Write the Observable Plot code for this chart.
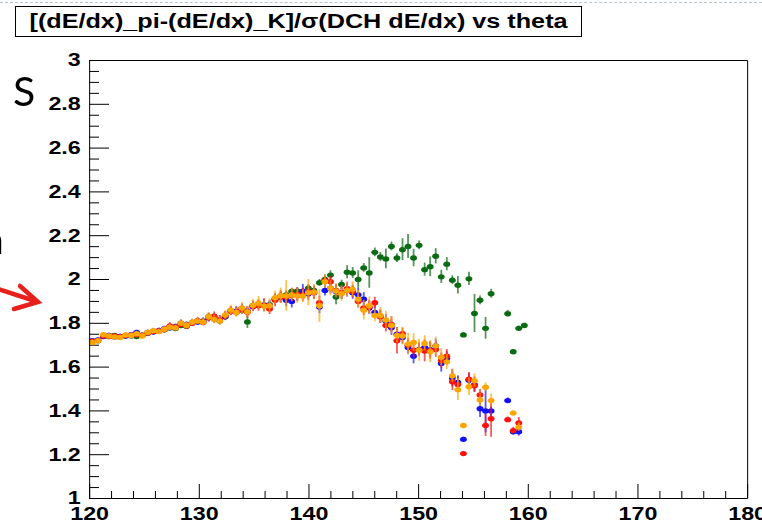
<!DOCTYPE html>
<html><head><meta charset="utf-8">
<script src="https://cdn.jsdelivr.net/npm/d3@7"></script>
<script src="https://cdn.jsdelivr.net/npm/@observablehq/plot@0.6"></script>
<style>
body{margin:0;background:#fff;}
#wrap{position:relative;width:762px;height:524px;overflow:hidden;background:#fff;font-family:"Liberation Sans",Arial,sans-serif;}
#dash{position:absolute;left:0;top:2px;width:762px;height:0;border-top:1px dashed #b8c4d0;}
#title{position:absolute;left:15px;top:6px;width:567px;height:31px;box-sizing:border-box;border:1px solid #000;display:flex;align-items:center;justify-content:center;background:#fff;z-index:2;}
#title span{display:inline-block;font-weight:bold;font-size:20px;white-space:nowrap;transform:scaleX(1.26);transform-origin:center;color:#000;}
.slide{position:absolute;font-family:Lato,"Open Sans",sans-serif;font-size:41px;color:#000;z-index:2;line-height:1;will-change:transform;}
#arrow{position:absolute;left:0;top:270px;z-index:2;}
#chart{position:absolute;left:0;top:0;}
#chart svg line, #chart svg rect, #chart svg path{vector-effect:non-scaling-stroke;}
</style></head>
<body>
<div id="wrap">
  <div id="chart"></div>
  <div id="dash"></div>
  <div id="title"><span>[(dE/dx)_pi-(dE/dx)_K]/σ(DCH dE/dx) vs theta</span></div>
  <div class="slide" style="left:13px;top:70px;">S</div>
  <div class="slide" style="left:-19px;top:218px;">n</div>
  <svg id="arrow" width="50" height="50" viewBox="0 270 50 50">
    <path d="M-2,289 L35,301" stroke="#e8201c" stroke-width="4.5" fill="none" stroke-linecap="round"/>
    <path d="M20,286 L38,302 L14,309" stroke="#e8201c" stroke-width="4.5" fill="none" stroke-linejoin="miter" stroke-linecap="round"/>
  </svg>
</div>
<script>
// theta binning: first bin centre at 120.25, spacing ~0.505 degree
const binFirstCentre = 120.25, binSpacing = 0.505, halfWidth = 0.25, nBins = 80;
const seriesNames = ["green", "blue", "red", "orange"];
const seriesColors = ["#0b6b12", "#1010ff", "#ff1010", "#ffa500"];

const greenY = [1.716,1.72,1.742,1.74,1.745,1.738,1.743,1.742,1.74,1.746,1.755,1.762,1.764,1.77,1.78,1.776,1.79,1.786,1.8,1.808,1.81,1.83,1.825,1.81,1.83,1.858,1.85,1.86,1.806,1.882,1.885,1.88,1.885,1.912,1.925,1.93,1.945,1.947,1.94,1.96,1.95,
1.985,2.0,2.02,1.92,1.977,2.033,2.03,2.0,2.053,2.03,2.124,2.103,2.094,2.151,2.098,2.136,2.151,2.098,2.156,2.045,2.058,2.106,2.012,2.07,1.997,1.974,1.747,2.003,1.845,1.905,1.777,1.935,null,null,1.844,1.67,1.777,1.79,null];
const greenErr = [0.008,0.008,0.008,0.008,0.008,0.008,0.008,0.008,0.008,0.008,0.01,0.01,0.01,0.01,0.01,0.01,0.01,0.01,0.01,0.01,0.01,0.015,0.015,0.015,0.015,0.015,0.015,0.015,0.03,0.015,0.015,0.015,0.015,0.015,0.015,0.015,0.015,0.015,0.015,0.015,0.015,
0.015,0.02,0.02,0.035,0.02,0.03,0.025,0.04,0.02,0.07,0.02,0.02,0.045,0.02,0.02,0.05,0.055,0.04,0.02,0.03,0.045,0.035,0.03,0.03,0.02,0.04,0.01,0.03,0.087,0.02,0.05,0.02,null,null,0.015,0.01,0.01,0.01,null];

const blueY = [1.72,1.724,1.74,1.745,1.738,1.74,1.742,1.748,1.758,1.745,1.757,1.76,1.766,1.775,1.78,1.784,1.8,1.792,1.802,1.806,1.81,1.826,1.82,1.815,1.832,1.856,1.855,1.868,1.856,1.876,1.886,1.884,1.88,1.91,1.92,1.905,1.9,1.93,1.947,1.935,1.94,
1.874,1.95,1.96,1.945,1.94,1.95,1.94,1.93,1.91,1.87,1.85,1.83,1.81,1.78,1.75,1.735,1.69,1.65,1.68,1.69,1.68,1.697,1.617,1.64,1.55,1.53,1.27,1.54,1.52,1.41,1.40,1.40,null,null,1.447,1.305,1.305,null,null];
const blueErr = [0.01,0.01,0.01,0.01,0.01,0.01,0.01,0.01,0.01,0.01,0.012,0.012,0.012,0.012,0.012,0.012,0.015,0.015,0.015,0.015,0.015,0.02,0.02,0.02,0.02,0.02,0.02,0.02,0.02,0.02,0.02,0.025,0.025,0.025,0.025,0.03,0.03,0.03,0.03,0.03,0.03,
0.03,0.025,0.025,0.03,0.03,0.03,0.03,0.03,0.03,0.03,0.03,0.03,0.03,0.035,0.03,0.03,0.03,0.035,0.03,0.03,0.035,0.03,0.04,0.03,0.04,0.03,0.01,0.03,0.035,0.04,0.1,0.03,null,null,0.012,0.015,0.02,null,null];

const redY = [1.718,1.722,1.742,1.74,1.742,1.738,1.744,1.746,1.748,1.744,1.756,1.762,1.765,1.77,1.788,1.782,1.795,1.788,1.8,1.812,1.804,1.825,1.832,1.815,1.834,1.855,1.852,1.862,1.85,1.878,1.88,1.882,1.865,1.905,1.92,1.92,1.928,1.932,1.93,1.945,1.94,
1.894,1.995,1.99,1.95,1.94,1.958,1.945,1.9,1.87,1.875,1.894,1.83,1.79,1.795,1.72,1.753,1.7,1.677,1.68,1.674,1.675,1.68,1.63,1.65,1.533,1.52,1.205,1.545,1.515,1.473,1.333,1.364,null,null,1.36,1.31,1.345,null,null];
const redErr = [0.01,0.01,0.01,0.01,0.01,0.01,0.01,0.01,0.012,0.01,0.012,0.012,0.012,0.012,0.014,0.014,0.015,0.015,0.015,0.015,0.016,0.018,0.02,0.02,0.02,0.02,0.022,0.022,0.025,0.025,0.025,0.03,0.025,0.03,0.03,0.03,0.03,0.03,0.03,0.03,0.03,
0.03,0.02,0.025,0.03,0.03,0.03,0.03,0.03,0.035,0.03,0.025,0.03,0.03,0.035,0.06,0.025,0.03,0.035,0.03,0.05,0.04,0.035,0.035,0.03,0.04,0.035,0.01,0.03,0.03,0.025,0.05,0.085,null,null,0.012,0.015,0.025,null,null];

const orangeY = [1.712,1.72,1.748,1.742,1.738,1.735,1.747,1.744,1.752,1.742,1.758,1.766,1.762,1.773,1.782,1.779,1.8,1.79,1.805,1.81,1.806,1.83,1.818,1.81,1.838,1.86,1.849,1.87,1.853,1.882,1.892,1.878,1.88,1.917,1.926,1.925,1.93,1.925,1.924,1.94,1.942,
1.88,1.99,1.96,1.947,1.935,1.95,1.955,1.91,1.86,1.88,1.836,1.836,1.815,1.79,1.745,1.742,1.705,1.712,1.677,1.708,1.67,1.697,1.645,1.624,1.56,1.497,1.333,1.51,1.538,1.45,1.508,1.447,null,null,null,1.39,1.326,null,null];
const orangeErr = [0.012,0.012,0.01,0.01,0.01,0.01,0.01,0.012,0.012,0.01,0.012,0.012,0.012,0.014,0.014,0.012,0.015,0.014,0.015,0.015,0.016,0.018,0.02,0.02,0.02,0.022,0.02,0.025,0.025,0.025,0.03,0.025,0.03,0.03,0.035,0.07,0.03,0.035,0.03,0.06,0.035,
0.075,0.03,0.035,0.03,0.035,0.03,0.035,0.04,0.045,0.04,0.03,0.035,0.04,0.04,0.035,0.04,0.05,0.04,0.05,0.035,0.05,0.04,0.04,0.035,0.03,0.05,0.01,0.04,0.03,0.03,0.02,0.03,null,null,null,0.01,0.02,null,null];

const xTickLabels = [120, 130, 140, 150, 160, 170, 180];
const yTickLabels = [1, 1.2, 1.4, 1.6, 1.8, 2, 2.2, 2.4, 2.6, 2.8, 3];

const seriesY = [greenY, blueY, redY, orangeY];
const seriesErr = [greenErr, blueErr, redErr, orangeErr];

const S = 1.26;               // horizontal stretch of the original picture
const W = 762 / S, H = 524;
const mL = 89 / S, mR = 15 / S, mT = 60, mB = 26;
const frameW = W - mL - mR, frameH = H - mT - mB;

const xMinor = d3.range(120, 180, 2).filter(v => v % 10 !== 0);
const yMinor = d3.range(0, 40).map(i => Math.round((1 + i * 0.05) * 100) / 100).filter(v => Math.round(v * 100) % 20 !== 0);

const marks = [
  Plot.tickX(xTickLabels, {x: d => d, stroke: "#000", insetTop: frameH - 14}),
  Plot.tickX(xMinor, {x: d => d, stroke: "#000", insetTop: frameH - 7}),
  Plot.tickY(yTickLabels, {y: d => d, stroke: "#000", insetRight: frameW - 20 / S}),
  Plot.tickY(yMinor, {y: d => d, stroke: "#000", insetRight: frameW - 10 / S}),
  Plot.axisX({ticks: xTickLabels, tickSize: 0, tickPadding: 8, label: null, tickFormat: d => String(d), fontSize: 18.5, fontWeight: "bold"}),
  Plot.axisY({ticks: yTickLabels, tickSize: 0, tickPadding: 7, label: null, tickFormat: d => d3.format("~g")(d), fontSize: 18.5, fontWeight: "bold"})
];

seriesNames.forEach((name, s) => {
  const rows = [];
  for (let k = 0; k < nBins; k++) {
    const v = seriesY[s][k];
    if (v == null) continue;
    rows.push({theta: binFirstCentre + binSpacing * k, v, e: seriesErr[s][k]});
  }
  const c = seriesColors[s];
  marks.push(
    Plot.ruleX(rows, {x: "theta", y1: d => d.v - d.e, y2: d => d.v + d.e, stroke: c, strokeWidth: 1.8, strokeOpacity: 0.7}),
    Plot.ruleY(rows, {y: "v", x1: d => d.theta - halfWidth, x2: d => d.theta + halfWidth, stroke: c, strokeWidth: 1.8, strokeOpacity: 0.7}),
    Plot.dot(rows, {x: "theta", y: "v", r: 2.7, fill: c, stroke: "none"})
  );
});

marks.push(Plot.frame({stroke: "#000", strokeWidth: 1}));

const chart = Plot.plot({
  width: W, height: H,
  marginLeft: mL, marginRight: mR, marginTop: mT, marginBottom: mB,
  x: {domain: [120, 180]},
  y: {domain: [1, 3]},
  style: {fontFamily: "'Liberation Sans', Arial, sans-serif", fontSize: "18.5px", fontWeight: "bold", color: "#000", background: "transparent", overflow: "visible"},
  marks
});
chart.setAttribute("viewBox", `0 0 ${W} ${H}`);
chart.setAttribute("width", 762);
chart.setAttribute("height", 524);
chart.setAttribute("preserveAspectRatio", "none");
chart.style.width = "762px";
chart.style.height = "524px";
chart.style.maxWidth = "none";
document.getElementById("chart").appendChild(chart);
</script>
</body></html>
